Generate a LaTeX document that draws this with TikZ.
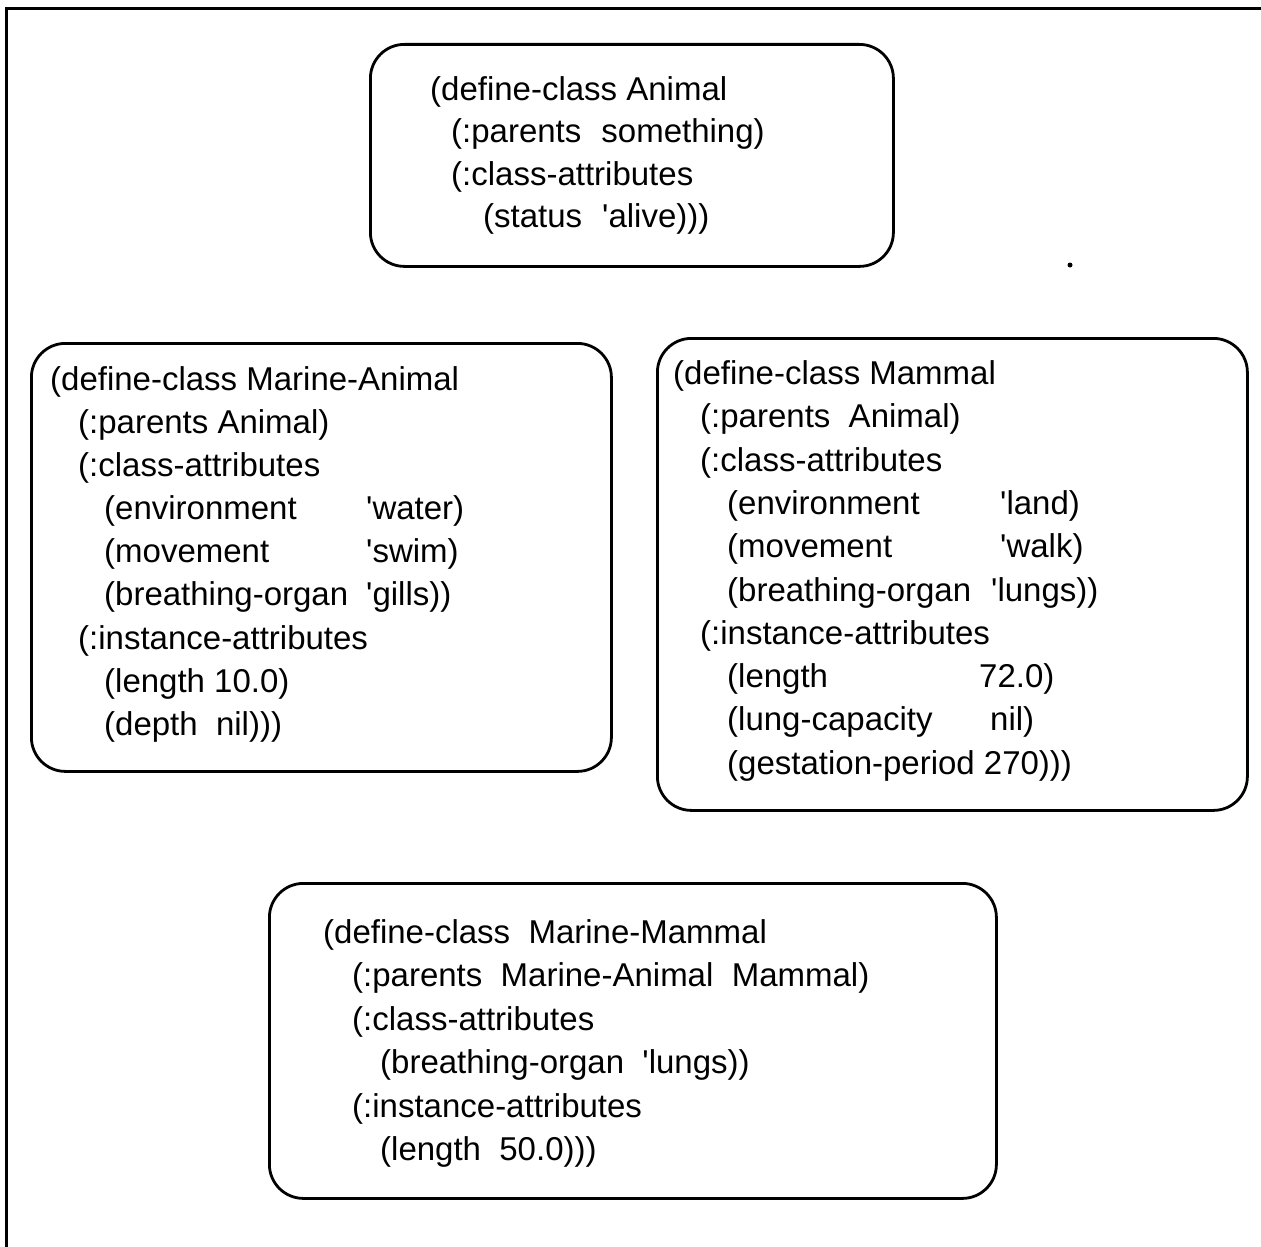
\documentclass[tikz,border=0pt]{standalone}
\usepackage{fontspec}
\newfontfamily\lispfont{Liberation Sans}
\begin{document}
\begin{tikzpicture}[x=1pt,y=-1pt,
  classbox/.style={draw, line width=2.8pt, rounded corners=34pt, inner sep=0pt,
                   anchor=north west},
  code/.style={anchor=base west, inner sep=0pt,
               font={\lispfont\fontsize{33}{40}\selectfont}}]
\useasboundingbox (0,0) rectangle (1261,1247);

% page frame (top and left edges)
\draw[line width=3.5pt] (6.5,1247) -- (6.5,8.5) -- (1261,8.5);

% ---- class boxes ----
\node[classbox, minimum width=523pt, minimum height=222pt] (animal)  at (369,43)  {};
\node[classbox, minimum width=580pt, minimum height=428pt] (marine)  at (30,342)  {};
\node[classbox, minimum width=590pt, minimum height=472pt] (mammal)  at (656,337) {};
\node[classbox, minimum width=727pt, minimum height=315pt] (mmammal) at (268,882) {};

% ---- Animal ----
\node[code] (a1) at (430,100)   {(define-class Animal};
\node[code] (a2) at (451,142.5) {(:parents\hspace{20pt}something)};
\node[code] (a3) at (451,185)   {(:class-attributes};
\node[code] (a4) at (483,227.5) {(status\hspace{20pt}'alive)))};

% ---- Marine-Animal ----
\node[code] (ma1) at (50,390)    {(define-class Marine-Animal};
\node[code] (ma2) at (78,433)    {(:parents Animal)};
\node[code] (ma3) at (78,476)    {(:class-attributes};
\node[code] (ma4) at (104,519.5) {(environment};
\node[code] (ma4v) at (366,519.5) {'water)};
\node[code] (ma5) at (104,562.5) {(movement};
\node[code] (ma5v) at (366,562.5) {'swim)};
\node[code] (ma6) at (104,605.5) {(breathing-organ};
\node[code] (ma6v) at (366,605.5) {'gills))};
\node[code] (ma7) at (78,649)    {(:instance-attributes};
\node[code] (ma8) at (104,692)   {(length 10.0)};
\node[code] (ma9) at (104,735)   {(depth~~nil)))};

% ---- Mammal ----
\node[code] (m1) at (673,384)   {(define-class Mammal};
\node[code] (m2) at (700,427)   {(:parents~~Animal)};
\node[code] (m3) at (700,471)   {(:class-attributes};
\node[code] (m4) at (727,514)   {(environment};
\node[code] (m4v) at (1000,514) {'land)};
\node[code] (m5) at (727,557)   {(movement};
\node[code] (m5v) at (1000,557) {'walk)};
\node[code] (m6) at (727,601)   {(breathing-organ};
\node[code] (m6v) at (991,601)  {'lungs))};
\node[code] (m7) at (700,644)   {(:instance-attributes};
\node[code] (m8) at (727,687)   {(length};
\node[code] (m8v) at (979,687)  {72.0)};
\node[code] (m9) at (727,730.5) {(lung-capacity};
\node[code] (m9v) at (990,730.5) {nil)};
\node[code] (m10) at (727,774)  {(gestation-period 270)))};

% ---- Marine-Mammal ----
\node[code] (mm1) at (323,943)  {(define-class~~Marine-Mammal};
\node[code] (mm2) at (352,986)  {(:parents~~Marine-Animal~~Mammal)};
\node[code] (mm3) at (352,1030) {(:class-attributes};
\node[code] (mm4) at (380,1073) {(breathing-organ~~'lungs))};
\node[code] (mm5) at (352,1117) {(:instance-attributes};
\node[code] (mm6) at (380,1160) {(length~~50.0)))};

% stray ink dot
\fill (1070,265) circle (2.5);
\end{tikzpicture}
\end{document}
